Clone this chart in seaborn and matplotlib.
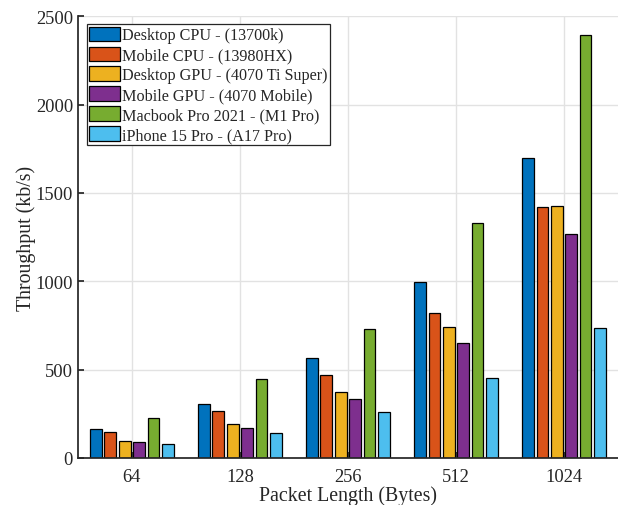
import seaborn as sns
import matplotlib.pyplot as plt
import pandas as pd

# packet lengths (bytes) and devices
lengths = ['64', '128', '256', '512', '1024']
devices = ['Desktop CPU - (13700k)', 'Mobile CPU - (13980HX)', 'Desktop GPU - (4070 Ti Super)',
           'Mobile GPU - (4070 Mobile)', 'Macbook Pro 2021 - (M1 Pro)', 'iPhone 15 Pro - (A17 Pro)']

# throughput in kb/s, one list per device
desktop_cpu = [162, 305, 566, 994, 1695]
mobile_cpu = [145, 266, 471, 822, 1418]
desktop_gpu = [96, 190, 372, 739, 1425]
mobile_gpu = [89, 171, 334, 652, 1267]
macbook = [226, 447, 730, 1327, 2396]
iphone = [77, 140, 262, 451, 735]

colors = ['#0072BD', '#D95319', '#EDB120', '#7E2F8E', '#77AC30', '#4DBEEE']

series = [desktop_cpu, mobile_cpu, desktop_gpu, mobile_gpu, macbook, iphone]
rows = []
for dev, vals in zip(devices, series):
    for ln, v in zip(lengths, vals):
        rows.append({'length': ln, 'throughput': v, 'device': dev})
df = pd.DataFrame(rows)

sns.set_theme(style='ticks')
plt.rcParams['font.family'] = ['Liberation Serif', 'DejaVu Serif']

fig = plt.figure(figsize=(6.18, 5.06), dpi=100)
ax = fig.add_axes([0.126, 0.093, 0.874, 0.873])

sns.barplot(data=df, x='length', y='throughput', hue='device', order=lengths,
            hue_order=devices, palette=colors, width=0.8, gap=0.19,
            edgecolor='black', linewidth=0.9, saturation=1, ax=ax)

ax.set_xlim(-0.5, 4.5)
ax.set_ylim(0, 2500)
ax.set_yticks([0, 500, 1000, 1500, 2000, 2500])
ax.grid(True, color='#e2e2e2', linewidth=1)
ax.set_axisbelow(True)
ax.spines['top'].set_visible(False)
ax.spines['right'].set_visible(False)
ax.tick_params(direction='in', length=4, labelsize=13.3, colors='#262626')
ax.tick_params(axis='x', pad=7)
ax.set_xlabel('Packet Length (Bytes)', fontsize=14.3, color='#262626')
ax.set_ylabel('Throughput (kb/s)', fontsize=14.3, color='#262626')
ax.xaxis.set_label_coords(0.5, -0.062)
ax.yaxis.set_label_coords(-0.078, 0.5)

handles, labels = ax.get_legend_handles_labels()
leg = ax.legend(handles, labels, loc='upper left', bbox_to_anchor=(0.016, 0.982),
                fontsize=11.6, fancybox=False, framealpha=1, edgecolor='#262626',
                handlelength=1.9, handleheight=1.0, handletextpad=0.15,
                labelspacing=0.2, borderpad=0.15, borderaxespad=0)
leg.get_frame().set_linewidth(0.9)

fig.savefig('out.png', dpi=100)
